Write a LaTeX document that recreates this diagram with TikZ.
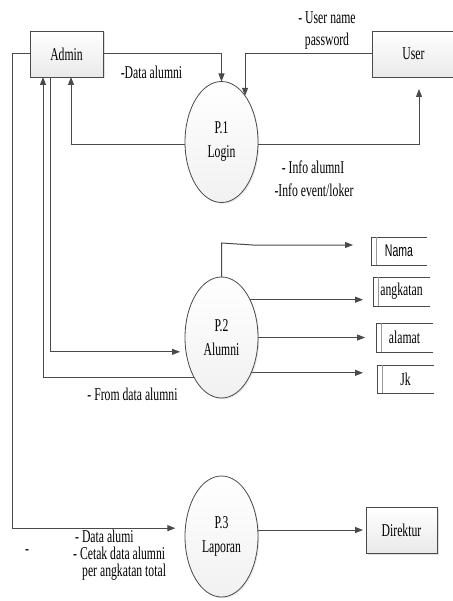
\documentclass[tikz,border=0pt]{standalone}
\usepackage{fontspec}
\setmainfont[FakeStretch=0.65]{Liberation Serif}
\newfontfamily\narrowsans[FakeStretch=0.62]{Liberation Sans}
\usetikzlibrary{arrows.meta,shadows,shapes.geometric}
\definecolor{linegray}{HTML}{4A4A4A}
\newcommand\dfdsize{\fontsize{18}{19}\selectfont}
\begin{document}
\begin{tikzpicture}[x=1pt,y=-1pt,
  font=\dfdsize,
  line/.style={draw=linegray, line width=1pt},
  arr/.style={line, -{Triangle[length=8pt,width=6pt]}},
  entity/.style={draw=linegray, line width=0.8pt, top color=white, bottom color=gray!17,
    minimum width=73pt, minimum height=46pt, inner sep=0pt, outer sep=0pt,
    drop shadow={shadow xshift=1.5pt, shadow yshift=-1.5pt, opacity=0.25}},
  process/.style={ellipse, draw=linegray, line width=0.8pt, top color=white, bottom color=gray!11,
    minimum width=73pt, minimum height=121pt, inner sep=0pt, outer sep=0pt, align=center,
    font=\fontsize{18}{24}\selectfont,
    drop shadow={shadow xshift=1.2pt, shadow yshift=-1.2pt, opacity=0.2}},
  store/.style={minimum height=28pt, inner sep=0pt, outer sep=0pt},
  lbl/.style={inner sep=0pt}]
\useasboundingbox (0,0) rectangle (452,601);

% external entities
\node[entity] (admin) at (66.5,54) {Admin};
\node[entity, minimum width=83pt] (user) at (413.5,54) {User};
\node[entity, minimum width=71pt] (dir) at (401.5,530) {Direktur};

% processes
\node[process] (p1) at (221.5,142) {P.1\\Login};
\node[process] (p2) at (221.5,337.5) {P.2\\Alumni};
\node[process] (p3) at (221.5,536.5) {P.3\\Laporan};

% data stores
\node[store, minimum width=56pt, font=\narrowsans\fontsize{17}{18}\selectfont] (nama) at (399,251) {Nama};
\node[store, minimum width=57pt, minimum height=29pt] (ang) at (401.5,291.5) {angkatan};
\node[store, minimum width=57pt, minimum height=29pt] (alm) at (404.5,337.5) {alamat};
\node[store, minimum width=57pt] (jk) at (405.5,379) {Jk};
\foreach \n in {nama,ang,alm,jk}{
  \draw[line, line width=0.9pt] (\n.north east) -- (\n.north west) -- (\n.south west) -- (\n.south east);
  \draw[line, draw=gray!80, line width=0.9pt] ([xshift=5pt]\n.north west) -- ([xshift=5pt]\n.south west);
}

% connectors
\draw[arr] (admin.east) -| (p1.north);
\draw[arr] (user.west) -| (p1.63);
\draw[arr, shorten >=12pt] (p1.-4) -| ([xshift=5.5pt]user.south);
\draw[arr] (p1.184) -| ([xshift=4.5pt]admin.south);
\draw[arr, shorten >=10pt] (admin.west) -- ++(-18,0) |- (p3.167);
\draw[arr] (p2.236) -| ([xshift=-23.5pt]admin.south);
\draw[arr, shorten >=6pt] ([xshift=-16.5pt]admin.south) |- (p2.202);
\draw[arr, shorten >=18pt] (p2.north) -- ++(0,-34) -- ++(31,2) coordinate (nk) -- (nk -| nama.west);
\draw[arr, shorten >=10pt] (p2.53) -- (p2.53 -| ang.west);
\draw[arr, shorten >=11pt] (p2.east) -- (alm.west |- p2.east);
\draw[arr, shorten >=14pt] (p2.310) -- (p2.310 -| jk.west);
\draw[arr, shorten >=3pt] (p3.east |- dir.west) -- (dir.west);

% labels
\node[lbl] (l1) at (151.5,72) {-Data alumni};
\node[lbl] (l2) at (327,18) {- User name};
\node[lbl] (l3) at (327,41) {password};
\node[lbl] (l4) at (313,167) {- Info alumnI};
\node[lbl] (l5) at (314,190) {-Info event/loker};
\node[lbl] (l6) at (132.5,394) {- From data alumni};
\node[lbl, anchor=west, align=left, font=\fontsize{18}{17}\selectfont] (l7) at (73,555)
  {\hspace*{2pt}- Data alumi\\- Cetak data alumni\\\hspace*{9pt}per angkatan total};
\node[lbl] (l10) at (27,552) {-};
\end{tikzpicture}
\end{document}
